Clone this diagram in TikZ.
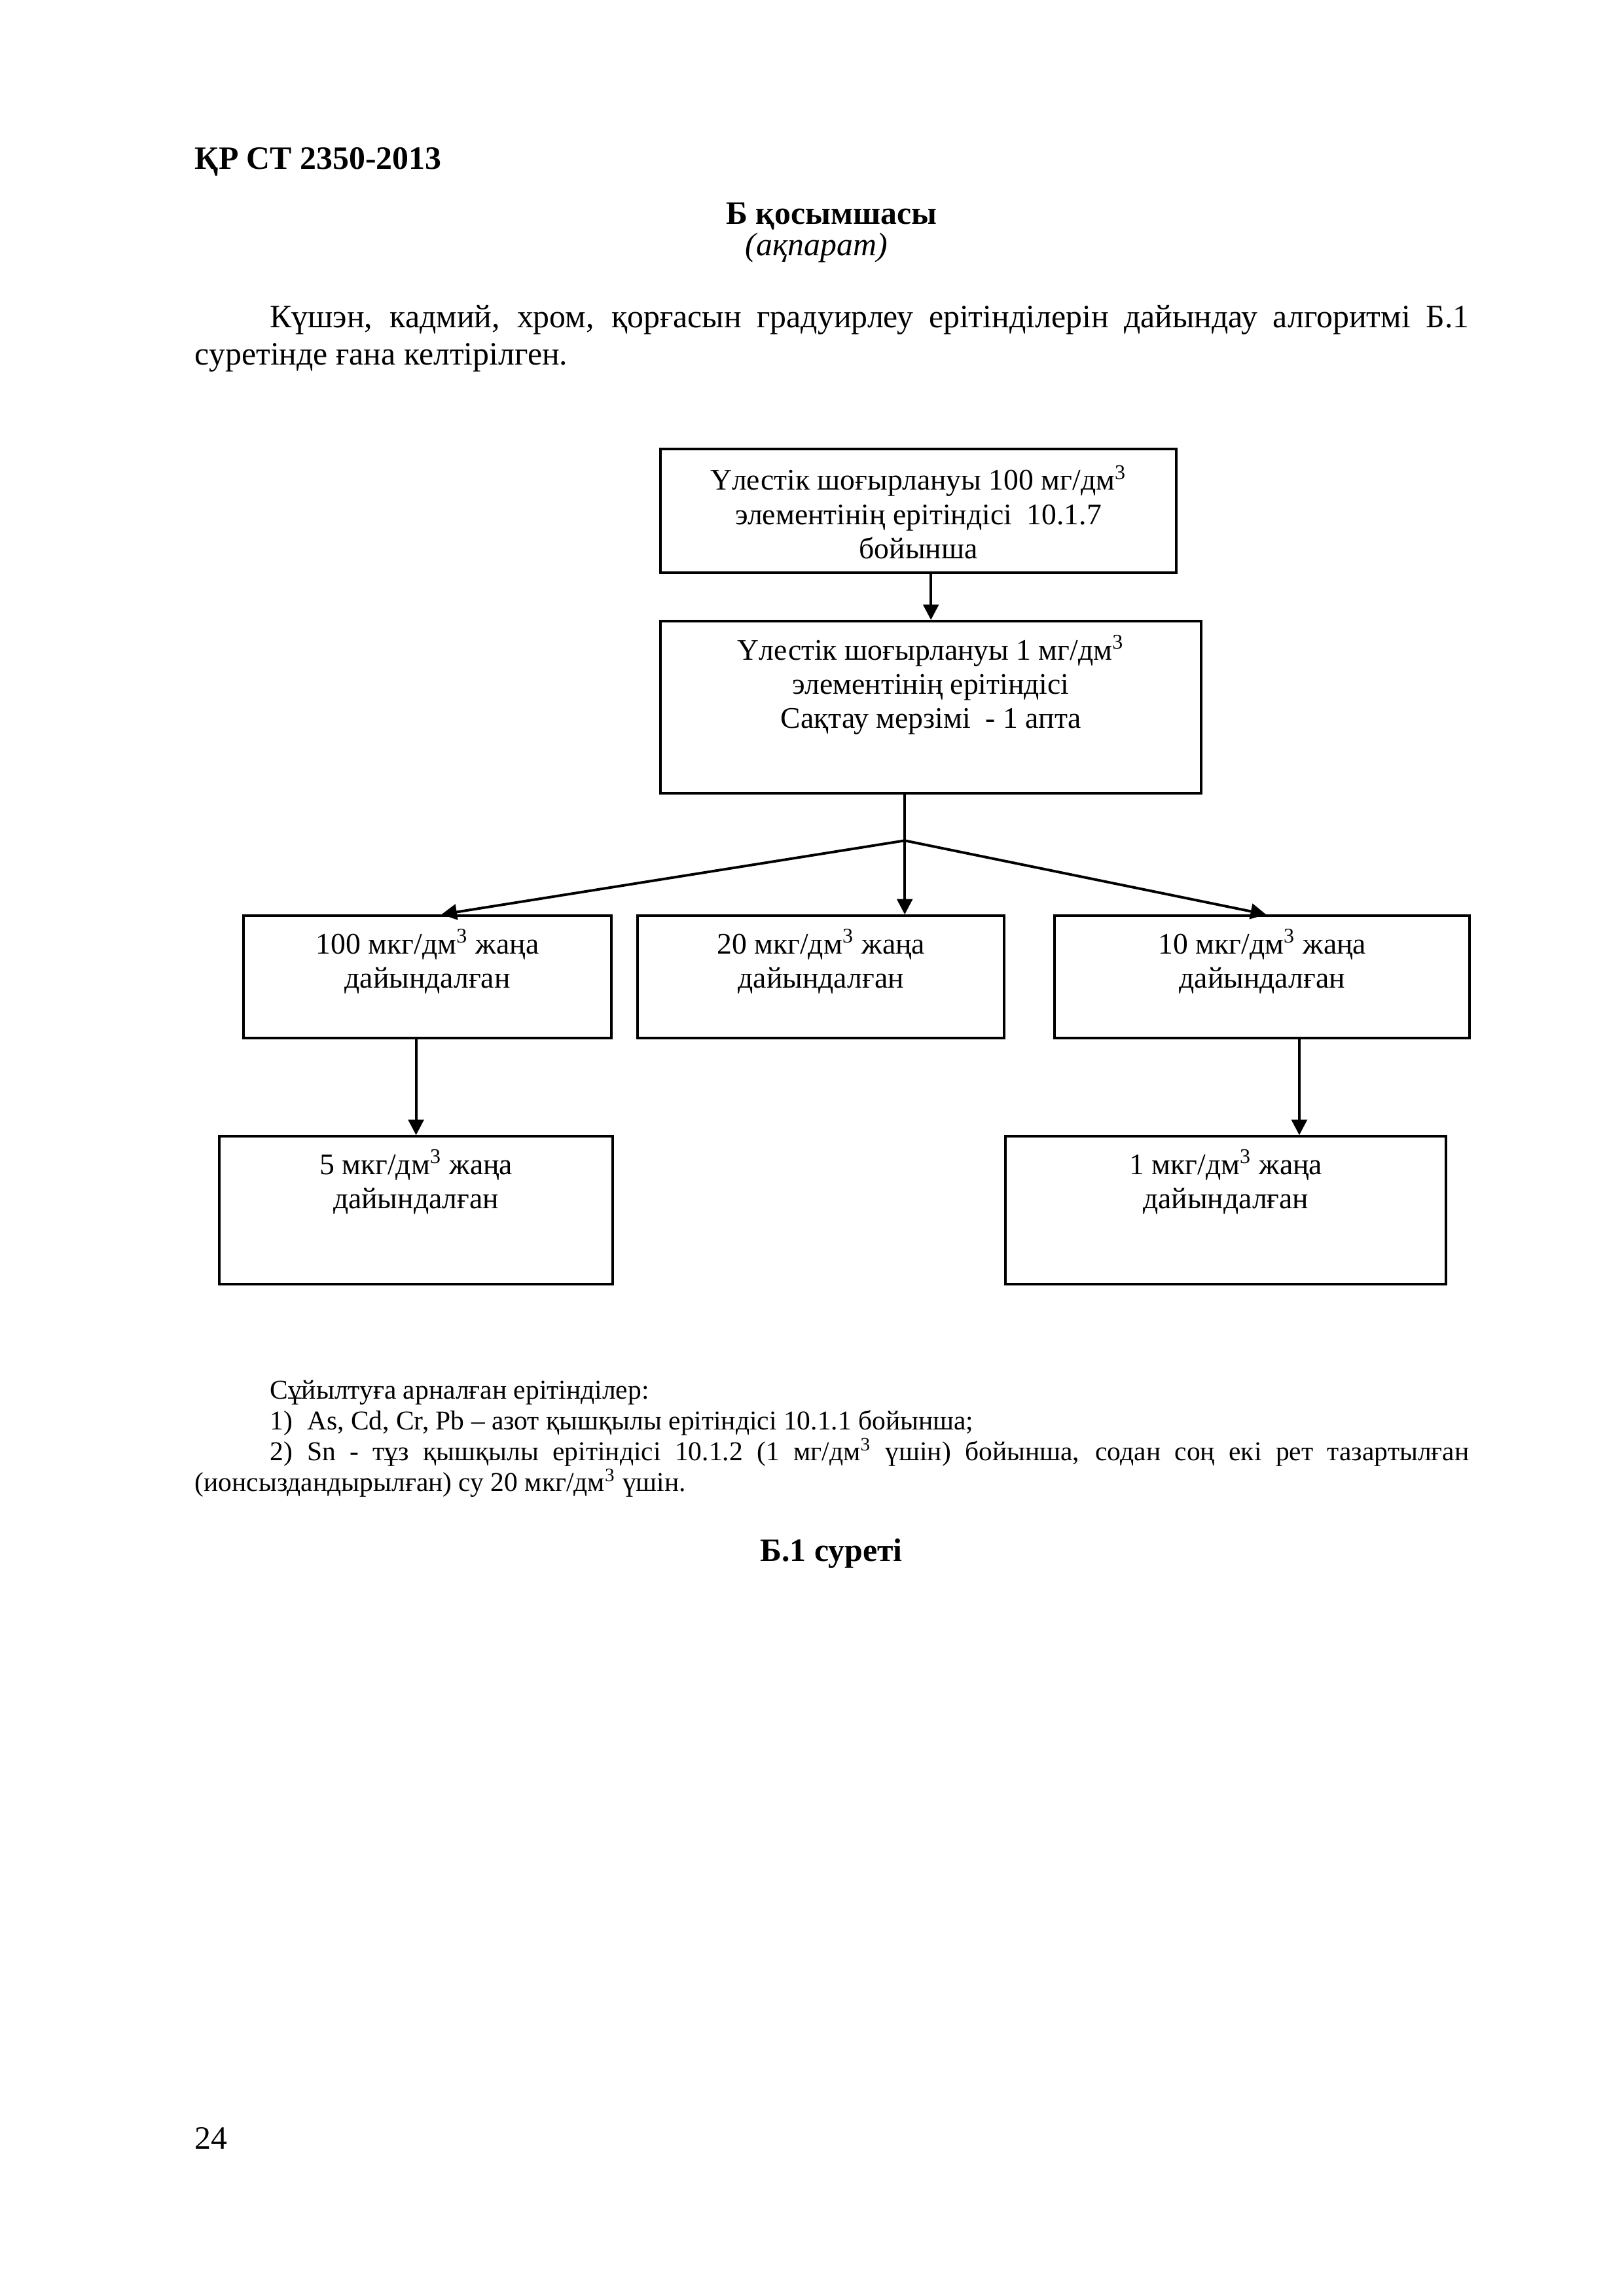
\documentclass[tikz,border=0pt]{standalone}
\usepackage{fontspec}
\setmainfont{Liberation Serif}
\usetikzlibrary{positioning,arrows.meta,calc}
\newcommand{\mainsize}{\fontsize{12}{13.9}\selectfont}
\newcommand{\boxsize}{\fontsize{11}{12.6}\selectfont}
\newcommand{\notesize}{\fontsize{10}{11.3}\selectfont}
\newcommand{\dmcube}{\textsuperscript{3}}

\begin{document}
\begin{tikzpicture}[
  x=1cm, y=-1cm,
  every node/.style={inner sep=0pt},
  head/.style={font=\mainsize\bfseries},
  solbox/.style={draw, line width=0.95pt, anchor=north west, font=\boxsize, text height=0.49cm},
  arr/.style={-{Triangle[length=2mm, width=2mm]}, line width=0.95pt}
]
\useasboundingbox (0,0) rectangle (21,29.7);

% Page text
\node[head, anchor=base west] (code) at (2.515,2.185) {ҚР СТ 2350-2013};
\node[head, anchor=base] (annex) at (10.754,2.896) {Б қосымшасы};
\node[font=\mainsize\itshape, anchor=base] (info) at (10.559,3.31) {(ақпарат)};
\node[font=\mainsize, anchor=base west] (intro) at (2.515,4.234) {\parbox[t]{16.48cm}{\hspace*{0.97cm}Күшэн, кадмий, хром, қорғасын градуирлеу ерітінділерін дайындау алгоритмі Б.1\linebreak суретінде ғана келтірілген.}};

% Stock solutions
\node[solbox, text height=0.53cm, text depth=1.07cm] (stock) at (8.527,5.792) {\parbox[t]{6.672cm}{\centering Үлестік шоғырлануы 100 мг/дм\dmcube\\ элементінің ерітіндісі\ \ 10.1.7\\ бойынша}};
\node[solbox, text height=0.50cm, text depth=1.727cm] (work) at (8.527,8.019) {\parbox[t]{6.994cm}{\centering Үлестік шоғырлануы 1 мг/дм\dmcube\\ элементінің ерітіндісі\\ Сақтау мерзімі\ \ - 1 апта}};
\coordinate (fork) at (11.702,10.873);

% Row 1
\node[solbox, text depth=1.094cm] (mixA) at (3.133,11.829) {\parbox[t]{4.759cm}{\centering 100 мкг/дм\dmcube{} жаңа\\ дайындалған}};
\node[solbox, text depth=1.094cm] (mixB) at (8.231,11.829) {\parbox[t]{4.742cm}{\centering 20 мкг/дм\dmcube{} жаңа\\ дайындалған}};
\node[solbox, text depth=1.094cm] (mixC) at (13.624,11.829) {\parbox[t]{5.369cm}{\centering 10 мкг/дм\dmcube{} жаңа\\ дайындалған}};

% Row 2
\node[solbox, text depth=1.424cm] (mixD) at (2.820,14.683) {\parbox[t]{5.089cm}{\centering 5 мкг/дм\dmcube{} жаңа\\ дайындалған}};
\node[solbox, text depth=1.424cm] (mixE) at (12.990,14.683) {\parbox[t]{5.698cm}{\centering 1 мкг/дм\dmcube{} жаңа\\ дайындалған}};
\coordinate (cdrop) at ([xshift=0.48cm]mixC.south);

% Arrows
\draw[arr] (work.north |- stock.south) -- (work.north);
\draw[line width=0.95pt] (fork |- work.south) -- (fork);
\draw[arr] (fork) -- ([xshift=0.18cm]mixA.north);
\draw[arr] (fork) -- (fork |- mixB.north);
\draw[arr] (fork) -- ([xshift=0.05cm]mixC.north);
\draw[arr] (mixD.north |- mixA.south) -- (mixD.north);
\draw[arr] (cdrop) -- (cdrop |- mixE.north);

% Notes and caption
\node[font=\notesize, anchor=base west] (note) at (2.515,18.096) {\parbox[t]{16.48cm}{%
\hspace*{0.97cm}Сұйылтуға арналған ерітінділер:\\
\hspace*{0.97cm}\makebox[0.48cm][l]{1)}As, Cd, Cr, Pb – азот қышқылы ерітіндісі 10.1.1 бойынша;\\
\hspace*{0.97cm}\makebox[0.48cm][l]{2)}Sn - тұз қышқылы ерітіндісі 10.1.2 (1 мг/дм\dmcube{} үшін) бойынша, содан соң екі рет тазартылған\linebreak (ионсыздандырылған) су 20 мкг/дм\dmcube{} үшін.}};
\node[head, anchor=base] (caption) at (10.754,20.196) {Б.1 суреті};
\node[font=\mainsize, anchor=base west] (page) at (2.515,27.80) {24};
\end{tikzpicture}
\end{document}
